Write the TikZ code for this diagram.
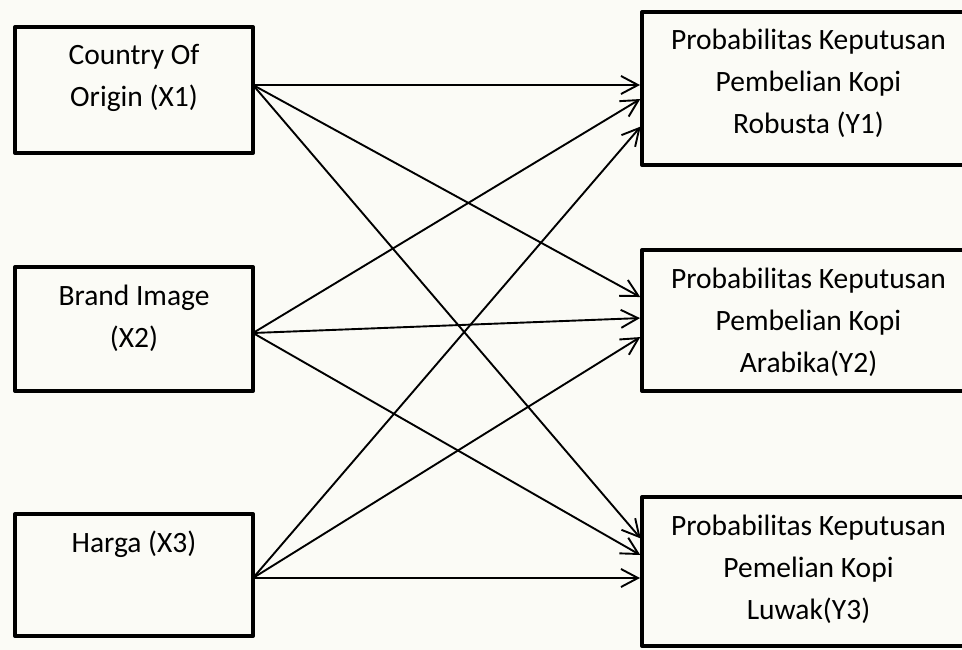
\documentclass[tikz,border=0pt]{standalone}
\usepackage{fontspec}
\setmainfont{Carlito}
\usetikzlibrary{positioning,arrows.meta}
\definecolor{paper}{RGB}{251,251,246}
\newcommand{\boxtext}[3]{\parbox[c][#2][t]{#1}{\centering\rule{0pt}{38pt}#3}}

\begin{document}
\begin{tikzpicture}[
  x=1pt, y=-1pt,
  box/.style={rectangle, draw, line width=4pt, line join=round, inner sep=0pt, outer sep=0pt, font=\fontsize{29.5}{42}\selectfont},
  arrow/.style={-{Straight Barb[length=17pt,width=18pt]}, line width=1.9pt, shorten >=2pt}
]
  \clip (0,0) rectangle (962,650);
  \fill[paper] (0,0) rectangle (962,650);

  % Variabel bebas (kiri)
  \node[box, anchor=north west] (x1) at (15,27) {\boxtext{238pt}{126pt}{Country Of\\Origin (X1)}};
  \node[box, below=114pt of x1] (x2) {\boxtext{238pt}{124pt}{Brand Image\\(X2)}};
  \node[box, below=123pt of x2] (x3) {\boxtext{238pt}{122pt}{Harga (X3)}};

  % Variabel terikat (kanan)
  \node[box, anchor=north west] (y1) at (642,12) {\boxtext{333pt}{153pt}{Probabilitas Keputusan\\Pembelian Kopi\\Robusta (Y1)}};
  \node[box, below=85pt of y1] (y2) {\boxtext{333pt}{141pt}{Probabilitas Keputusan\\Pembelian Kopi\\Arabika(Y2)}};
  \node[box, below=106pt of y2] (y3) {\boxtext{333pt}{149pt}{Probabilitas Keputusan\\Pemelian Kopi\\Luwak(Y3)}};

  % Panah dari X1
  \draw[arrow] ([yshift=5pt]x1.east) -- ([yshift=3.5pt]y1.west);
  \draw[arrow] ([yshift=5pt]x1.east) -- ([yshift=22.5pt]y2.west);
  \draw[arrow] ([yshift=5pt]x1.east) -- ([yshift=31.5pt]y3.west);

  % Panah dari X2
  \draw[arrow] ([yshift=-4pt]x2.east) -- ([yshift=-9.5pt]y1.west);
  \draw[arrow] ([yshift=-4pt]x2.east) -- ([yshift=2.5pt]y2.west);
  \draw[arrow] ([yshift=-4pt]x2.east) -- ([yshift=15.5pt]y3.west);

  % Panah dari X3
  \draw[arrow] ([yshift=-3pt]x3.east) -- ([yshift=-36.5pt]y1.west);
  \draw[arrow] ([yshift=-3pt]x3.east) -- ([yshift=-15.5pt]y2.west);
  \draw[arrow] ([yshift=-3pt]x3.east) -- ([yshift=-6.5pt]y3.west);

\end{tikzpicture}
\end{document}
